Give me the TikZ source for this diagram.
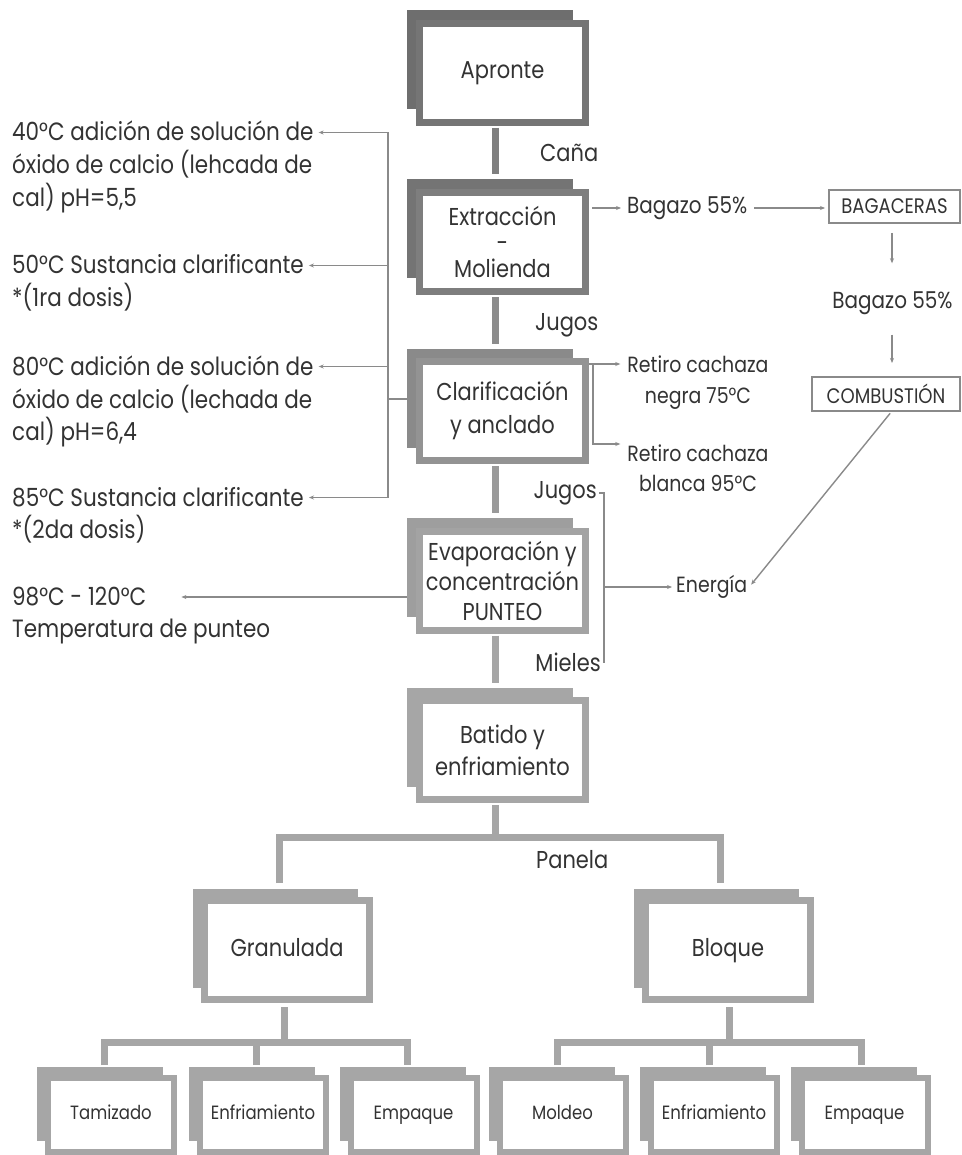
\documentclass[tikz,border=0pt]{standalone}
\usepackage{fontspec}
\setmainfont{Poppins}[FakeStretch=0.86]
\usetikzlibrary{arrows.meta,calc}
\pgfdeclarelayer{bg}
\pgfsetlayers{bg,main}
\definecolor{txt}{HTML}{333333}
\definecolor{lc}{HTML}{8A8A8A}
\definecolor{ba}{HTML}{6E6E6E}
\definecolor{fa}{HTML}{757575}
\definecolor{bb}{HTML}{747474}
\definecolor{fb}{HTML}{7E7E7E}
\definecolor{bc}{HTML}{8A8A8A}
\definecolor{fc}{HTML}{939393}
\definecolor{bd}{HTML}{9E9E9E}
\definecolor{fd}{HTML}{A3A3A3}
\definecolor{ge}{HTML}{A6A6A6}
\definecolor{ca}{HTML}{7F7F7F}
\definecolor{cb}{HTML}{8C8C8C}
\definecolor{cc}{HTML}{9A9A9A}
\tikzset{
  front/.style={rectangle, fill=white, line width=7pt, outer sep=0pt, inner sep=0pt,
    align=center, text=txt, font=\fontsize{24.4}{31}\selectfont},
  colbox/.style={front, minimum width=166pt, minimum height=99pt},
  onebox/.style={colbox, minimum width=165pt, text height=17pt, text depth=5pt},
  smallbox/.style={front, line width=6pt, minimum width=126pt, minimum height=74pt,
    font=\fontsize{19.2}{20}\selectfont, text height=13.5pt, text depth=4pt},
  conn/.style={line width=7pt, line join=miter},
  thinl/.style={line width=1.4pt, draw=lc},
  arr/.style={thinl, -{Stealth[length=5pt,width=4pt]}},
  lbl/.style={text=txt, inner sep=2pt, align=center, font=\fontsize{24.4}{31}\selectfont},
  side/.style={text=txt, inner sep=0pt, anchor=base west, font=\fontsize{25}{33}\selectfont},
  framed/.style={lbl, draw=lc, line width=1.3pt, outer sep=0pt, inner sep=0pt,
    font=\fontsize{21}{22}\selectfont},
}
\newcommand\stackbox[6]{%
  \node[#3] (#1) at #2 {#6};
  \begin{pgfonlayer}{bg}
    \fill[#4] ($(#1.north west)+(-#5,-#5)$) rectangle ($(#1.south east)+(-#5,-#5)$);
  \end{pgfonlayer}}
\begin{document}
\begin{tikzpicture}[x=1pt,y=-1pt]
\begin{pgfonlayer}{bg}
  \fill[white] (0,0) rectangle (961,1155);
\end{pgfonlayer}
\useasboundingbox (0,0) rectangle (961,1155);

% main column
\stackbox{apr}{(502.5,73)}{colbox,draw=fa}{ba}{13}{Apronte}
\stackbox{extr}{(502.5,242)}{colbox,draw=fb,font=\fontsize{24.4}{26}\selectfont}{bb}{13}{Extracción\\-\\Molienda}
\stackbox{clar}{(502.5,411)}{colbox,draw=fc,font=\fontsize{24.4}{33}\selectfont}{bc}{13}{Clarificación\\y anclado}
\stackbox{evap}{(502.5,580.5)}{colbox,draw=fd,font=\fontsize{24.4}{30}\selectfont}{bd}{13}{Evaporación y\\concentración\\PUNTEO}
\stackbox{bat}{(502.5,750)}{colbox,draw=ge,font=\fontsize{24.4}{32}\selectfont}{ge}{13}{Batido y\\enfriamiento}

% second level
\stackbox{gran}{(287,950)}{onebox,draw=ge}{ge}{12}{Granulada}
\stackbox{blo}{(728,950)}{onebox,draw=ge}{ge}{12}{Bloque}

% third level
\stackbox{tam}{(111,1115)}{smallbox,draw=ge}{ge}{11}{Tamizado}
\stackbox{enfa}{(263,1115)}{smallbox,draw=ge}{ge}{11}{Enfriamiento}
\stackbox{empa}{(413.5,1115)}{smallbox,draw=ge}{ge}{11}{Empaque}
\stackbox{mol}{(562.5,1115)}{smallbox,draw=ge}{ge}{11}{Moldeo}
\stackbox{enfb}{(714,1115)}{smallbox,draw=ge}{ge}{11}{Enfriamiento}
\stackbox{empb}{(864.5,1115)}{smallbox,draw=ge}{ge}{11}{Empaque}

% labels on column
\node[lbl, anchor=west] (cana) at (538,153) {Caña};
\node[lbl, anchor=west] (jug1) at (533,325) {Jugos};
\node[lbl, anchor=east] (jug2) at (599,493) {Jugos};
\node[lbl, anchor=east] (miel) at (603,662) {Mieles};
\node[lbl, anchor=west] (pan) at (534,860) {Panela};

% right side
\node[lbl, anchor=west, font=\fontsize{23.2}{24}\selectfont] (bag1) at (625,208) {Bagazo 55\%};
\node[framed, minimum width=131pt, minimum height=33pt] (bagc) at (894.5,206.5) {BAGACERAS};
\node[lbl, font=\fontsize{23.2}{24}\selectfont] (bag2) at (892.5,303) {Bagazo 55\%};
\node[framed, minimum width=148pt, minimum height=34pt] (comb) at (886,394) {COMBUSTIÓN};
\node[lbl, font=\fontsize{22}{31}\selectfont] (rc1) at (698,382.5) {Retiro cachaza\\negra 75°C};
\node[lbl, font=\fontsize{22}{30}\selectfont] (rc2) at (698,468) {Retiro cachaza\\blanca 95°C};
\node[lbl, anchor=west, font=\fontsize{22}{24}\selectfont] (ener) at (674,587) {Energía};

% left side texts
\node[side] (t1a) at (12,141) {40°C adición de solución de};
\node[side] (t1b) at (12,174) {óxido de calcio (lehcada de};
\node[side] (t1c) at (12,207) {cal) pH=5,5};
\node[side] (t2a) at (12,274) {50°C Sustancia clarificante};
\node[side] (t2b) at (12,306) {*(1ra dosis)};
\node[side] (t3a) at (12,375) {80°C adición de solución de};
\node[side] (t3b) at (12,408) {óxido de calcio (lechada de};
\node[side] (t3c) at (12,440) {cal) pH=6,4};
\node[side] (t4a) at (12,506) {85°C Sustancia clarificante};
\node[side] (t4b) at (12,538) {*(2da dosis)};
\node[side] (t5a) at (12,605) {98°C - 120°C};
\node[side] (t5b) at (12,637) {Temperatura de punteo};

\begin{pgfonlayer}{bg}
  % column connectors
  \draw[conn, ca] ($(apr.south)+(-7.5,5.5)$) -- ($(extr.north)+(-7.5,-18)$);
  \draw[conn, cb] ($(extr.south)+(-7.5,5.5)$) -- ($(clar.north)+(-7.5,-18)$);
  \draw[conn, cc] ($(clar.south)+(-7.5,5.5)$) -- ($(evap.north)+(-7.5,-18)$);
  \draw[conn, ge] ($(evap.south)+(-7.5,5.5)$) -- ($(bat.north)+(-7.5,-18)$);
  % Panela branch
  \coordinate (pj) at (495,837);
  \coordinate (pg) at ($(gran.north)+(-7.5,-17.5)$);
  \coordinate (pb) at ($(blo.north)+(-7.5,-17.5)$);
  \draw[conn, ge] (pg) |- (pj) -| (pb);
  \draw[conn, ge] ($(bat.south)+(-7.5,5.5)$) -- (pj);
  % Granulada branch
  \coordinate (gb) at (284,1042.5);
  \coordinate (v1) at ($(tam.north)+(-6.5,-13)$);
  \coordinate (v2) at ($(enfa.north)+(-6.5,-13)$);
  \coordinate (v3) at ($(empa.north)+(-6.5,-13)$);
  \draw[conn, ge] ($(gran.south)+(-3,7.5)$) -- (gb);
  \draw[conn, ge] (v1) |- (gb) -| (v3);
  \draw[conn, ge] (v2) -- (v2 |- gb);
  % Bloque branch
  \coordinate (bb) at (729,1042.5);
  \coordinate (w1) at ($(mol.north)+(-5.5,-13)$);
  \coordinate (w2) at ($(enfb.north)+(-5,-13)$);
  \coordinate (w3) at ($(empb.north)+(-3.5,-13)$);
  \draw[conn, ge] ($(blo.south)+(1,7.5)$) -- (bb);
  \draw[conn, ge] (w1) |- (bb) -| (w3);
  \draw[conn, ge] (w2) -- (w2 |- bb);

  % left bracket
  \coordinate (vx) at (388,0);
  \coordinate (a1) at ($(t1a.base east)+(5,-8.5)$);
  \coordinate (a2) at ($(t2a.base east)+(5,-8.5)$);
  \coordinate (a3) at ($(t3a.base east)+(5,-8.5)$);
  \coordinate (a4) at ($(t4a.base east)+(5,-8.5)$);
  \draw[thinl] (a1 -| vx) -- (a4 -| vx);
  \draw[arr] (a1 -| vx) -- (a1);
  \draw[arr] (a2 -| vx) -- (a2);
  \draw[arr] (a3 -| vx) -- (a3);
  \draw[arr] (a4 -| vx) -- (a4);
  \coordinate (cl) at ($(clar.west)+(-13,-12)$);
  \draw[thinl] (cl) -- (cl -| vx);
  \coordinate (ev) at ($(evap.west)+(-13,16.5)$);
  \coordinate (a5) at ($(t5a.base east)+(35,-8)$);
  \draw[arr] (ev) -- (ev -| a5);

  % right side
  \coordinate (bgx) at (892,0);
  \draw[arr, shorten >=4pt] ($(extr.east)+(6.5,-34)$) -- (bag1.west);
  \draw[arr, shorten <=5pt, shorten >=4pt] (bag1.east) -- (bag1.east -| bagc.west);
  \draw[arr, shorten <=10pt, shorten >=26pt] (bagc.south -| bgx) -- (bag2.north -| bgx);
  \draw[arr, shorten <=18pt, shorten >=14pt] (bag2.south -| bgx) -- (comb.north -| bgx);
  \draw[arr, shorten <=3pt, shorten >=3pt] (comb.south -| bgx) -- (ener.east);
  \coordinate (cr) at ($(clar.east)+(3.5,-47)$);
  \coordinate (cv) at ($(cr)+(4,0)$);
  \coordinate (cbot) at ($(cv)+(0,80)$);
  \draw[arr, shorten >=5pt] (cr) -- (cr -| rc1.west);
  \draw[arr, shorten >=5pt] (cv) -- (cbot) -- (cbot -| rc2.west);
  \coordinate (bx) at (604,0);
  \draw[thinl] (jug2.east) -- (jug2.east -| bx) -- (miel.east -| bx) -- (miel.east);
  \draw[arr, shorten >=2pt] (ener.west -| bx) -- (ener.west);
\end{pgfonlayer}
\end{tikzpicture}
\end{document}
